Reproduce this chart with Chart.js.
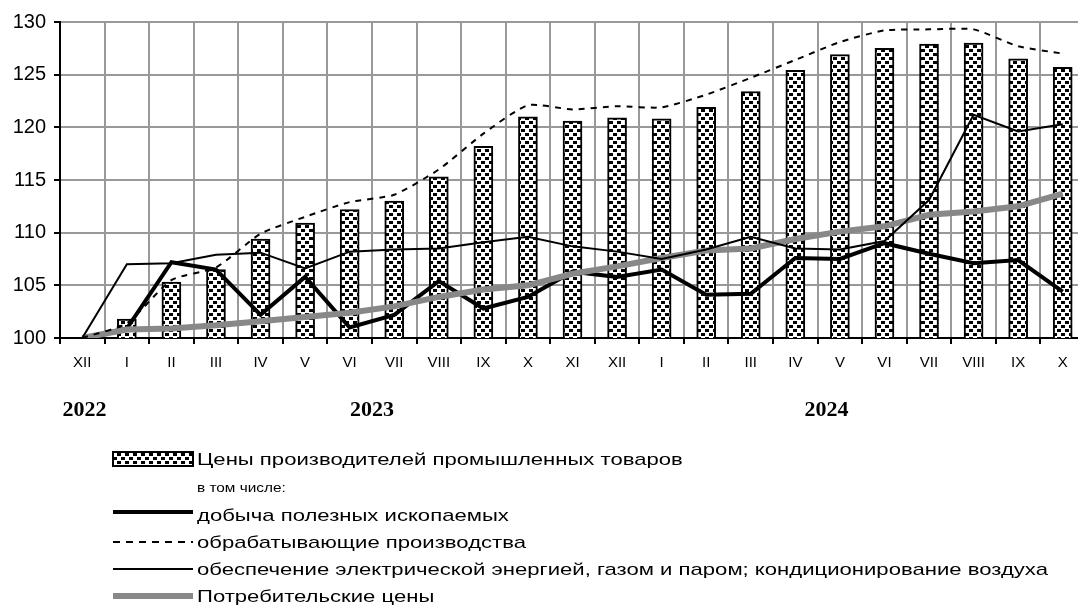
<!DOCTYPE html>
<html>
<head>
<meta charset="utf-8">
<script src="https://cdn.jsdelivr.net/npm/chart.js@4.4.1/dist/chart.umd.min.js"></script>
<style>
    html, body { margin: 0; padding: 0; background: #fff; overflow: hidden; }
    #wrap { width: 1090px; height: 608px; }
</style>
</head>
<body>
<div id="wrap"><canvas id="chart" width="1090" height="608"></canvas></div>
<script>
// months, Dec 2022 = 100
const months = ['XII', 'I', 'II', 'III', 'IV', 'V', 'VI', 'VII', 'VIII', 'IX', 'X', 'XI',
    'XII', 'I', 'II', 'III', 'IV', 'V', 'VI', 'VII', 'VIII', 'IX', 'X'];
const years = ['2022', '2023', '2024'];

const producerPrices = [100, 101.8, 105.3, 106.5, 109.4, 110.9, 112.2, 113.0, 115.3, 118.2, 121.0, 120.6,
    120.9, 120.8, 121.9, 123.4, 125.4, 126.9, 127.5, 127.9, 128.0, 126.5, 125.7];
const mining = [100, 100.9, 107.2, 106.5, 102.2, 105.8, 101.0, 102.2, 105.4, 102.8, 103.9, 106.3,
    105.8, 106.5, 104.1, 104.2, 107.6, 107.5, 109.0, 108.0, 107.1, 107.4, 104.4];
const manufacturing = [100, 101.4, 105.5, 106.7, 109.9, 111.5, 112.9, 113.6, 116.0, 119.4, 122.1, 121.7,
    122.0, 121.9, 123.1, 124.7, 126.4, 128.1, 129.2, 129.3, 129.3, 127.7, 127.0];
const electricity = [100, 107.0, 107.1, 107.9, 108.1, 106.6, 108.2, 108.4, 108.5, 109.1, 109.6, 108.7,
    108.2, 107.5, 108.4, 109.6, 108.5, 108.4, 109.2, 113.1, 121.2, 119.6, 120.3];
const consumerPrices = [100, 100.8, 100.9, 101.2, 101.6, 102.0, 102.4, 103.0, 103.9, 104.6, 105.0, 106.1,
    106.8, 107.6, 108.3, 108.5, 109.4, 110.1, 110.6, 111.7, 112.0, 112.5, 113.7];

const legendTexts = [
    'Цены производителей промышленных товаров',
    'в том числе:',
    'добыча полезных ископаемых',
    'обрабатывающие производства',
    'обеспечение электрической энергией, газом и паром; кондиционирование воздуха',
    'Потребительские цены'
];

const FONT = '"Liberation Sans", Arial, sans-serif';
const GRAY = '#888888';

const canvas = document.getElementById('chart');
const ctx = canvas.getContext('2d');

// dotted fill like the original bars
function makeDots() {
    const p = document.createElement('canvas');
    p.width = 8;
    p.height = 8;
    const g = p.getContext('2d');
    g.fillStyle = '#fff';
    g.fillRect(0, 0, 8, 8);
    g.fillStyle = '#000';
    g.fillRect(1, 1, 4, 3);
    g.fillRect(5, 5, 3, 3);
    g.fillRect(0, 5, 1, 3);
    return ctx.createPattern(p, 'repeat');
}
const dots = makeDots();

function wideText(c, text, x, y, sx) {
    c.save();
    c.translate(x, y);
    c.scale(sx, 1);
    c.fillText(text, 0, 0);
    c.restore();
}

const legendPlugin = {
    id: 'legendBelow',
    afterDraw(chart) {
        const c = chart.ctx;
        const xs = chart.scales.x;
        c.save();

        // year captions under the month axis
        const yearAt = [0.05, 6.5, 16.7];
        c.font = 'bold 22px "Liberation Serif", "Times New Roman", serif';
        c.fillStyle = '#000';
        c.textAlign = 'center';
        c.textBaseline = 'middle';
        years.forEach((y, i) => c.fillText(y, xs.getPixelForValue(yearAt[i]), 410));

        const x0 = 113, x1 = 193, tx = 197;
        c.textAlign = 'left';
        c.textBaseline = 'alphabetic';

        // bars
        c.fillStyle = dots;
        c.fillRect(x0, 452, x1 - x0, 14);
        c.strokeStyle = '#000';
        c.lineWidth = 2;
        c.strokeRect(x0, 452, x1 - x0, 14);

        const line = (y, w, color, dash) => {
            c.beginPath();
            c.setLineDash(dash || []);
            c.strokeStyle = color;
            c.lineWidth = w;
            c.moveTo(x0, y);
            c.lineTo(x1, y);
            c.stroke();
            c.setLineDash([]);
        };
        line(512, 4, '#000');
        line(542, 2, '#000', [7, 6]);
        line(569, 2, '#000');
        line(596, 6, GRAY);

        c.fillStyle = '#000';
        c.font = '17px ' + FONT;
        wideText(c, legendTexts[0], tx, 465, 1.3);
        c.font = '12px ' + FONT;
        wideText(c, legendTexts[1], tx, 492, 1.28);
        c.font = '17px ' + FONT;
        wideText(c, legendTexts[2], tx, 521, 1.3);
        wideText(c, legendTexts[3], tx, 548, 1.3);
        wideText(c, legendTexts[4], tx, 575, 1.3);
        wideText(c, legendTexts[5], tx, 602, 1.3);
        c.restore();
    }
};

new Chart(ctx, {
    type: 'bar',
    data: {
        labels: months,
        datasets: [
            {
                label: legendTexts[0],
                data: producerPrices,
                order: 5,
                backgroundColor: dots,
                borderColor: '#000',
                borderWidth: 2,
                borderSkipped: false,
                barThickness: 19,
            },
            {
                label: legendTexts[2],
                data: mining,
                type: 'line',
                order: 4,
                borderColor: '#000',
                borderWidth: 4,
                pointRadius: 0,
                tension: 0,
                fill: false,
            },
            {
                label: legendTexts[5],
                data: consumerPrices,
                type: 'line',
                order: 3,
                borderColor: GRAY,
                borderWidth: 6,
                pointRadius: 0,
                tension: 0,
                fill: false,
            },
            {
                label: legendTexts[4],
                data: electricity,
                type: 'line',
                order: 2,
                borderColor: '#000',
                borderWidth: 2,
                pointRadius: 0,
                tension: 0,
                fill: false,
            },
            {
                label: legendTexts[3],
                data: manufacturing,
                type: 'line',
                order: 1,
                borderColor: '#000',
                borderWidth: 2,
                borderDash: [6, 6],
                pointRadius: 0,
                tension: 0.2,
                fill: false,
            },
        ],
    },
    options: {
        responsive: false,
        animation: false,
        layout: { padding: { top: 22, right: 5, bottom: 230, left: 0 } },
        plugins: {
            legend: { display: false },
            tooltip: { enabled: false },
        },
        scales: {
            x: {
                afterFit: (s) => { s.height = 40; },
                grid: { color: '#999', lineWidth: 2, tickColor: '#000', tickLength: 6, offset: true },
                border: { color: '#000', width: 2 },
                ticks: { color: '#000', font: { family: FONT, size: 15 }, padding: 10, maxRotation: 0, autoSkip: false },
            },
            y: {
                min: 100,
                max: 130,
                afterFit: (s) => { s.width = 60; },
                grid: { color: '#999', lineWidth: 2, tickColor: '#000', tickLength: 6 },
                border: { color: '#000', width: 2 },
                ticks: { stepSize: 5, color: '#000', font: { family: FONT, size: 20 }, padding: 8 },
            },
        },
    },
    plugins: [legendPlugin],
});
</script>
</body>
</html>
